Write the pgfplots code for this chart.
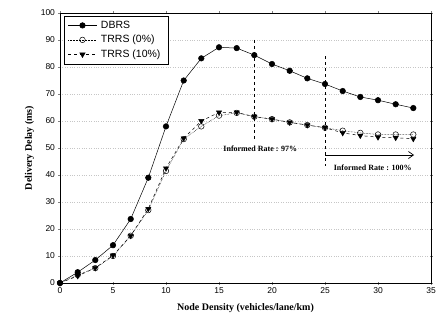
\documentclass[border=0pt]{standalone}
\usepackage{fontspec}
\setmainfont{Liberation Sans}
\newfontfamily\serifbf{Liberation Serif}
\usepackage{pgfplots}
\pgfplotsset{compat=1.18}
\usetikzlibrary{arrows.meta}
\begin{document}
\begin{tikzpicture}
\begin{axis}[
  name=ax,
  scale only axis,
  width=371pt, height=270pt,
  xmin=0, xmax=35, ymin=0, ymax=100,
  xtick={0,5,...,35}, ytick={0,10,...,100},
  /pgf/number format/assume math mode=true,
  tick label style={font=\fontsize{8.5}{9}\selectfont},
  tick align=center,
  major tick length=3pt,
  axis line style={line width=0.8pt},
  ymajorgrids,
  grid style={gray!45, dotted, line width=0.4pt},
  xlabel={\serifbf\bfseries Node Density (vehicles/lane/km)},
  ylabel={\serifbf\bfseries Delivery Delay (ms)},
  label style={font=\fontsize{10}{12}\selectfont},
  xlabel style={yshift=-3pt},
  ylabel style={yshift=0pt},
  legend style={at={(0.01,0.99)}, anchor=north west, draw=black, line width=0.6pt,
    font=\fontsize{10.5}{12}\selectfont, inner xsep=4pt, inner ysep=3pt, row sep=1.5pt,
    legend cell align=left,
    nodes={inner xsep=4pt}},
  legend image code/.code={\draw[#1] (0cm,0cm) -- (1cm,0cm); \draw[#1,only marks] plot coordinates {(0.5cm,0cm)};},
]
\addplot[black, line width=0.5pt, mark=*, mark size=2.8pt, mark options={solid}] coordinates {
(0,0) (1.67,4) (3.33,8.5) (5,14) (6.67,23.7) (8.33,39) (10,58) (11.67,75)
(13.33,83.2) (15,87.3) (16.67,87) (18.33,84.4) (20,81.1) (21.67,78.6)
(23.33,75.8) (25,73.7) (26.67,71.1) (28.33,68.9) (30,67.7) (31.67,66.2) (33.33,64.8)};
\addlegendentry{DBRS}
\addplot[black, line width=0.5pt, densely dotted, mark=o, mark size=2.8pt, mark options={solid, fill=white}] coordinates {
(0,0) (1.67,3) (3.33,5.5) (5,10) (6.67,17.5) (8.33,27) (10,41.5) (11.67,53.3)
(13.33,58) (15,62) (16.67,63) (18.33,61.6) (20,60.7) (21.67,59.5)
(23.33,58.5) (25,57.5) (26.67,56.4) (28.33,55.6) (30,55) (31.67,55) (33.33,55)};
\addlegendentry{TRRS (0\%)}
\addplot[black, line width=0.5pt, dashed, mark=triangle*, mark size=3pt, mark options={solid, rotate=180}] coordinates {
(0,0) (1.67,2.6) (3.33,5.6) (5,10.2) (6.67,17.5) (8.33,27.5) (10,42.5) (11.67,53.6)
(13.33,60) (15,63.2) (16.67,63.2) (18.33,61.6) (20,60.7) (21.67,59.5)
(23.33,58.5) (25,57.5) (26.67,55.6) (28.33,54.6) (30,54) (31.67,53.8) (33.33,53.4)};
\addlegendentry{TRRS (10\%)}
\draw[black, dashed, line width=0.7pt] (axis cs:18.33,90) -- (axis cs:18.33,52.5);
\draw[black, dashed, line width=0.7pt] (axis cs:25,84) -- (axis cs:25,43.5);
\draw[black, line width=0.7pt, -{Straight Barb[length=5pt,width=7pt]}] (axis cs:25,47.4) -- (axis cs:33.4,47.4);
\node[font=\serifbf\bfseries\fontsize{8}{9}\selectfont] at (axis cs:18.9,49.8) {Informed Rate : 97\%};
\node[font=\serifbf\bfseries\fontsize{8}{9}\selectfont] at (axis cs:29.5,42.6) {Informed Rate : 100\%};
\end{axis}
\pgfresetboundingbox
\path ([xshift=-60pt,yshift=-44pt]ax.south west) rectangle ([xshift=5pt,yshift=13pt]ax.north east);
\end{tikzpicture}
\end{document}
